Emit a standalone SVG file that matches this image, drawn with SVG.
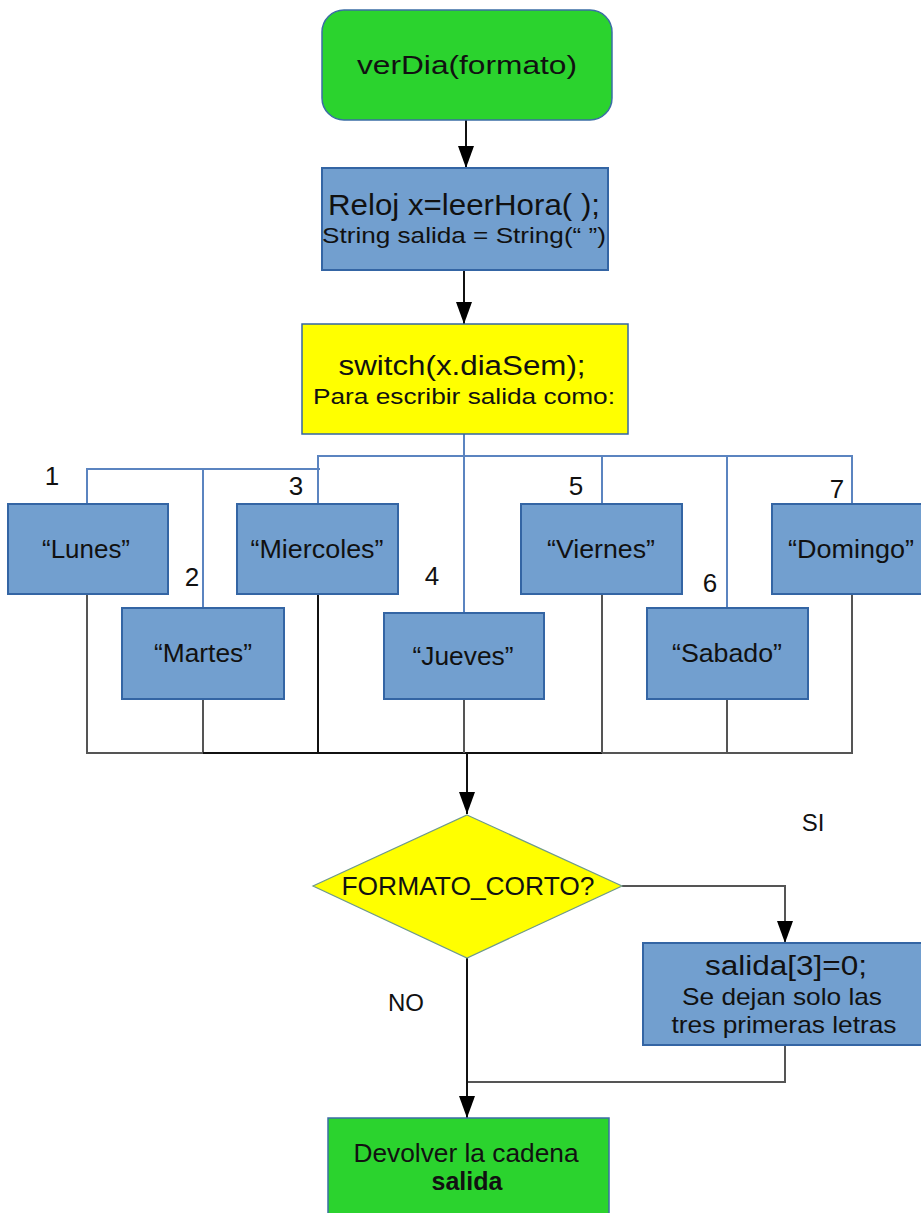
<svg xmlns="http://www.w3.org/2000/svg" width="921" height="1213" viewBox="0 0 921 1213">
  <style>
    text { font-family: "Liberation Sans", Arial, sans-serif; fill: #111; text-anchor: middle; }
    .start { fill: #2bd32e; stroke: #3b6ea5; stroke-width: 1.5; }
    .proc { fill: #729fcf; stroke: #3465a4; stroke-width: 2; }
    .cond { fill: #ffff00; stroke: #3465a4; stroke-width: 1.5; }
    .dia { fill: #ffff00; stroke: #6f9a8a; stroke-width: 1.2; }
    .end { fill: #2bd32e; stroke: #3b6ea5; stroke-width: 1.5; }
    .flow { fill: none; stroke: #111; stroke-width: 2; }
    .gray { fill: none; stroke: #555; stroke-width: 2; }
    .case { fill: none; stroke: #5b84c0; stroke-width: 2; }
    .lbl { font-size: 26px; }
  </style>
  <defs>
    <marker id="arrow" markerUnits="userSpaceOnUse" markerWidth="22" markerHeight="16" viewBox="0 -8 22 16" refX="22" refY="0" orient="auto">
      <path d="M0,-8 L22,0 L0,8 Z" fill="#000"/>
    </marker>
  </defs>

  <!-- connectors -->
  <g id="connectors">
    <line class="flow" x1="466" y1="120" x2="466" y2="168" marker-end="url(#arrow)"/>
    <line class="flow" x1="464" y1="270" x2="464" y2="324" marker-end="url(#arrow)"/>

    <!-- switch branches -->
    <polyline class="case" points="464,434 464,613"/>
    <polyline class="case" points="318,504 318,456 852,456 852,504"/>
    <line class="case" x1="602" y1="456" x2="602" y2="504"/>
    <line class="case" x1="727" y1="456" x2="727" y2="608"/>
    <polyline class="case" points="87,504 87,469 320,469"/>
    <line class="case" x1="203" y1="469" x2="203" y2="608"/>

    <!-- merge after switch -->
    <polyline class="gray" points="87,594 87,753 203,753"/>
    <line class="gray" x1="203" y1="699" x2="203" y2="753"/>
    <line class="flow" x1="203" y1="753" x2="602" y2="753"/>
    <line class="flow" x1="318" y1="594" x2="318" y2="753"/>
    <line class="gray" x1="464" y1="699" x2="464" y2="753"/>
    <line class="gray" x1="602" y1="594" x2="602" y2="753"/>
    <polyline class="gray" points="602,753 852,753 852,594"/>
    <line class="gray" x1="727" y1="699" x2="727" y2="753"/>
    <line class="flow" x1="467" y1="753" x2="467" y2="814" marker-end="url(#arrow)"/>

    <!-- condition -->
    <polyline class="gray" points="622,886 785,886 785,943" marker-end="url(#arrow)"/>
    <polyline class="gray" points="785,1045 785,1082 467,1082"/>
    <line class="flow" x1="467" y1="958" x2="467" y2="1118" marker-end="url(#arrow)"/>
  </g>

  <g id="n-start">
    <rect class="start" x="322" y="10" width="290" height="110" rx="22" ry="22"/>
    <text class="lbl" x="467" y="74" font-size="28" textLength="220" lengthAdjust="spacingAndGlyphs">verDia(formato)</text>
  </g>

  <g id="n-init">
    <rect class="proc" x="322" y="168" width="286" height="102"/>
    <text x="464" y="215" font-size="29" textLength="272" lengthAdjust="spacingAndGlyphs">Reloj x=leerHora( );</text>
    <text x="464" y="243" font-size="22" textLength="284" lengthAdjust="spacingAndGlyphs">String salida = String(“ ”)</text>
  </g>

  <g id="n-switch">
    <rect class="cond" x="302" y="324" width="326" height="110"/>
    <text x="462" y="375" font-size="27" textLength="247" lengthAdjust="spacingAndGlyphs">switch(x.diaSem);</text>
    <text x="464" y="404" font-size="22" textLength="302" lengthAdjust="spacingAndGlyphs">Para escribir salida como:</text>
  </g>

  <g id="n-lunes">
    <rect class="proc" x="8" y="504" width="160" height="90"/>
    <text class="lbl" x="86" y="558" textLength="88" lengthAdjust="spacingAndGlyphs">“Lunes”</text>
    <text class="lbl" x="52" y="485">1</text>
  </g>
  <g id="n-martes">
    <rect class="proc" x="122" y="608" width="162" height="91"/>
    <text class="lbl" x="203" y="662" textLength="98" lengthAdjust="spacingAndGlyphs">“Martes”</text>
    <text class="lbl" x="192" y="586">2</text>
  </g>
  <g id="n-miercoles">
    <rect class="proc" x="237" y="504" width="161" height="90"/>
    <text class="lbl" x="317" y="558" textLength="133" lengthAdjust="spacingAndGlyphs">“Miercoles”</text>
    <text class="lbl" x="296" y="495">3</text>
  </g>
  <g id="n-jueves">
    <rect class="proc" x="384" y="613" width="160" height="86"/>
    <text class="lbl" x="463" y="665" textLength="101" lengthAdjust="spacingAndGlyphs">“Jueves”</text>
    <text class="lbl" x="432" y="585">4</text>
  </g>
  <g id="n-viernes">
    <rect class="proc" x="521" y="504" width="161" height="90"/>
    <text class="lbl" x="601" y="558" textLength="108" lengthAdjust="spacingAndGlyphs">“Viernes”</text>
    <text class="lbl" x="576" y="495">5</text>
  </g>
  <g id="n-sabado">
    <rect class="proc" x="647" y="608" width="161" height="91"/>
    <text class="lbl" x="727" y="662" textLength="110" lengthAdjust="spacingAndGlyphs">“Sabado”</text>
    <text class="lbl" x="710" y="592">6</text>
  </g>
  <g id="n-domingo">
    <rect class="proc" x="772" y="504" width="160" height="90"/>
    <text class="lbl" x="851" y="558" textLength="126" lengthAdjust="spacingAndGlyphs">“Domingo”</text>
    <text class="lbl" x="837" y="498">7</text>
  </g>

  <g id="n-corto">
    <polygon class="dia" points="467,815 622,886 467,958 313,886"/>
    <text x="468" y="895" font-size="26" textLength="253" lengthAdjust="spacingAndGlyphs">FORMATO_CORTO?</text>
  </g>

  <g id="n-recorte">
    <rect class="proc" x="643" y="943" width="290" height="102"/>
    <text x="786" y="975" font-size="27" textLength="162" lengthAdjust="spacingAndGlyphs">salida[3]=0;</text>
    <text x="782" y="1005" font-size="24" textLength="200" lengthAdjust="spacingAndGlyphs">Se dejan solo las</text>
    <text x="784" y="1033" font-size="24" textLength="225" lengthAdjust="spacingAndGlyphs">tres primeras letras</text>
  </g>

  <g id="labels">
    <text x="406" y="1011" font-size="24">NO</text>
    <text x="813" y="831" font-size="24">SI</text>
  </g>

  <g id="n-fin">
    <rect class="end" x="328" y="1118" width="281" height="110"/>
    <text x="466" y="1162" font-size="25" textLength="225" lengthAdjust="spacingAndGlyphs">Devolver la cadena</text>
    <text x="467" y="1190" font-size="25" font-weight="bold">salida</text>
  </g>
</svg>
